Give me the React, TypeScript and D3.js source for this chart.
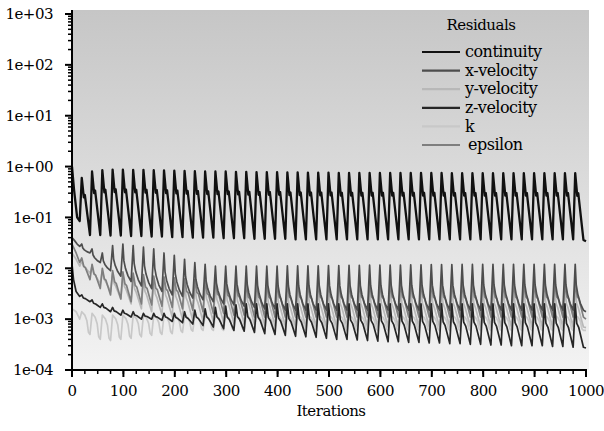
import * as d3 from 'd3';

// Fluent-style residual history, 0..1000 iterations, 49 periodic cycles
const seriesNames = ['continuity', 'x-velocity', 'y-velocity', 'z-velocity', 'k', 'epsilon'];
const seriesColors = ['#111111', '#4d4d4d', '#b8b8b8', '#262626', '#c8c8c8', '#7e7e7e'];
const drawOrder = [4, 2, 5, 1, 3, 0];

const yTickValues = [1e-4, 1e-3, 1e-2, 1e-1, 1e0, 1e1, 1e2, 1e3];
const yTickLabels = ['1e-04', '1e-03', '1e-02', '1e-01', '1e+00', '1e+01', '1e+02', '1e+03'];
const xTickValues = [0, 100, 200, 300, 400, 500, 600, 700, 800, 900, 1000];

// each cycle starts at a trough; 20 iterations per cycle
const cycleStarts = d3.range(15, 980, 20);

// residual values before the first cycle: [iteration, value]
const prefixes: [number, number][][] = [
  [[0, 1.0], [4, 0.35], [10, 0.1], [15, 0.085]],
  [[0, 0.04], [5, 0.035], [10, 0.03], [15, 0.027]],
  [[0, 0.02], [8, 0.015], [15, 0.011]],
  [[0, 0.012], [3, 0.006], [8, 0.0035], [15, 0.0028]],
  [[0, 0.0016], [8, 0.0014], [15, 0.001]],
  [[0, 0.03], [8, 0.02], [15, 0.013]],
];

// cycle shape: [iteration offset, position between trough (0) and peak (1), log scale]
const templates: [number, number][][] = [
  [[4, 1], [8, 0.66], [10, 0.7], [20, 0]],
  [[4, 1], [6, 0.55], [9, 0.35], [14, 0.15], [20, 0]],
  [[4, 1], [7, 0.6], [10, 0.5], [20, 0]],
  [[4, 1], [7, 0.55], [11, 0.45], [20, 0]],
  [[4, 1], [10, 0.85], [14, 0.6], [17, 0.1], [20, 0]],
  [[4, 1], [8, 0.6], [11, 0.55], [20, 0]],
];

const continuityPeaks = [
  0.6, 0.8, 0.85, 0.87, 0.87, 0.86, 0.86, 0.85, 0.84, 0.83,
  0.82, 0.81, 0.8, 0.8, 0.8, 0.79, 0.79, 0.78, 0.78, 0.78,
  0.77, 0.77, 0.76, 0.76, 0.76, 0.75, 0.75, 0.75, 0.75, 0.75,
  0.75, 0.75, 0.75, 0.75, 0.75, 0.75, 0.74, 0.74, 0.74, 0.74,
  0.74, 0.74, 0.74, 0.74, 0.74, 0.74, 0.74, 0.74, 0.74,
];
const continuityTroughs = [
  0.045, 0.045, 0.044, 0.044, 0.043, 0.043, 0.042, 0.042, 0.041, 0.041,
  0.04, 0.04, 0.04, 0.039, 0.039, 0.039, 0.038, 0.038, 0.038, 0.038,
  0.037, 0.037, 0.037, 0.037, 0.037, 0.037, 0.037, 0.037, 0.037, 0.037,
  0.037, 0.037, 0.037, 0.037, 0.037, 0.037, 0.037, 0.037, 0.037, 0.037,
  0.037, 0.037, 0.037, 0.037, 0.037, 0.037, 0.037, 0.037, 0.036,
];
const xVelPeaks = [
  0.03, 0.024, 0.02, 0.028, 0.03, 0.028, 0.026, 0.024, 0.02, 0.018,
  0.015, 0.013, 0.012, 0.011, 0.011, 0.011, 0.011, 0.011, 0.011, 0.011,
  0.0112, 0.0112, 0.0112, 0.0112, 0.0113, 0.0113, 0.0114, 0.0114, 0.0115, 0.0115,
  0.0116, 0.0116, 0.0117, 0.0117, 0.0118, 0.0118, 0.0118, 0.0119, 0.0119, 0.012,
  0.012, 0.012, 0.012, 0.012, 0.012, 0.012, 0.012, 0.012, 0.012,
];
const xVelTroughs = [
  0.02, 0.013, 0.009, 0.007, 0.0055, 0.0045, 0.004, 0.0035, 0.003, 0.0028,
  0.0026, 0.0024, 0.0022, 0.002, 0.0019, 0.0018, 0.0017, 0.0016, 0.0016, 0.0015,
  0.0015, 0.0015, 0.0015, 0.0015, 0.0015, 0.0015, 0.0015, 0.0015, 0.0015, 0.0015,
  0.0015, 0.0015, 0.0015, 0.0015, 0.0015, 0.0015, 0.0015, 0.0015, 0.0015, 0.0015,
  0.0015, 0.0015, 0.0015, 0.0015, 0.0015, 0.0015, 0.0015, 0.0015, 0.0015,
];
const yVelPeaks = [
  0.014, 0.011, 0.009, 0.008, 0.0075, 0.007, 0.0065, 0.006, 0.0058, 0.0055,
  0.0052, 0.005, 0.005, 0.0048, 0.0046, 0.0045, 0.0044, 0.0043, 0.0042, 0.0041,
  0.004, 0.004, 0.004, 0.004, 0.004, 0.004, 0.004, 0.004, 0.004, 0.004,
  0.004, 0.004, 0.004, 0.004, 0.004, 0.004, 0.004, 0.004, 0.004, 0.004,
  0.004, 0.004, 0.004, 0.004, 0.004, 0.004, 0.004, 0.004, 0.004,
];
const yVelTroughs = [
  0.008, 0.005, 0.0035, 0.0025, 0.002, 0.0016, 0.0014, 0.0012, 0.0011, 0.001,
  0.00095, 0.0009, 0.00088, 0.00085, 0.00082, 0.0008, 0.00078, 0.00076, 0.00074, 0.00072,
  0.0007, 0.0007, 0.0007, 0.0007, 0.0007, 0.0007, 0.0007, 0.0007, 0.0007, 0.0007,
  0.0007, 0.0007, 0.0007, 0.0007, 0.0007, 0.0007, 0.0007, 0.0007, 0.0007, 0.0007,
  0.0007, 0.0007, 0.0007, 0.0007, 0.0007, 0.0007, 0.0007, 0.0007, 0.0007,
];
const zVelPeaks = [
  0.003, 0.0024, 0.002, 0.0017, 0.0015, 0.0014, 0.0013, 0.0013, 0.0013, 0.0013,
  0.0014, 0.0015, 0.0016, 0.0017, 0.0018, 0.0019, 0.002, 0.002, 0.002, 0.002,
  0.002, 0.002, 0.002, 0.002, 0.002, 0.002, 0.002, 0.002, 0.002, 0.002,
  0.002, 0.002, 0.002, 0.002, 0.002, 0.002, 0.002, 0.002, 0.002, 0.002,
  0.002, 0.002, 0.002, 0.002, 0.002, 0.002, 0.002, 0.002, 0.002,
];
const zVelTroughs = [
  0.0022, 0.0017, 0.0014, 0.0012, 0.0011, 0.001, 0.001, 0.00095, 0.0009, 0.00085,
  0.0008, 0.00075, 0.0007, 0.00065, 0.0006, 0.00058, 0.00055, 0.00052, 0.0005, 0.00048,
  0.00046, 0.00045, 0.00044, 0.00042, 0.0004, 0.0004, 0.00039, 0.00038, 0.00037, 0.00036,
  0.00036, 0.00035, 0.00035, 0.00034, 0.00034, 0.00033, 0.00033, 0.00032, 0.00032, 0.00031,
  0.00031, 0.0003, 0.0003, 0.0003, 0.0003, 0.00029, 0.00029, 0.00028, 0.00028,
];
const kPeaks = [
  0.0014, 0.0013, 0.0012, 0.0012, 0.0012, 0.0012, 0.0012, 0.0012, 0.0012, 0.0012,
  0.0012, 0.0012, 0.0012, 0.0012, 0.0012, 0.0012, 0.0012, 0.0012, 0.0012, 0.0012,
  0.0012, 0.0012, 0.0012, 0.0012, 0.0012, 0.0012, 0.0012, 0.0012, 0.0012, 0.0012,
  0.0012, 0.0012, 0.0012, 0.0012, 0.0012, 0.0012, 0.0012, 0.0012, 0.0012, 0.0012,
  0.0012, 0.0012, 0.0012, 0.0012, 0.0012, 0.0012, 0.0012, 0.0012, 0.0012,
];
const kTroughs = [
  0.0005, 0.0004, 0.00038, 0.0004, 0.00042, 0.00045, 0.00048, 0.0005, 0.00052, 0.00055,
  0.00058, 0.0006, 0.0006, 0.0006, 0.0006, 0.0006, 0.0006, 0.0006, 0.0006, 0.0006,
  0.0006, 0.0006, 0.0006, 0.0006, 0.0006, 0.0006, 0.0006, 0.0006, 0.0006, 0.0006,
  0.0006, 0.0006, 0.0006, 0.0006, 0.0006, 0.0006, 0.0006, 0.0006, 0.0006, 0.0006,
  0.0006, 0.0006, 0.0006, 0.0006, 0.0006, 0.0006, 0.0006, 0.0006, 0.0006,
];
const epsPeaks = [
  0.016, 0.012, 0.01, 0.009, 0.0085, 0.008, 0.0075, 0.007, 0.0068, 0.0065,
  0.0062, 0.006, 0.0058, 0.0056, 0.0054, 0.0052, 0.005, 0.005, 0.005, 0.005,
  0.005, 0.005, 0.005, 0.005, 0.005, 0.005, 0.005, 0.005, 0.005, 0.005,
  0.005, 0.005, 0.005, 0.005, 0.005, 0.005, 0.005, 0.005, 0.005, 0.005,
  0.005, 0.005, 0.005, 0.005, 0.005, 0.005, 0.005, 0.005, 0.005,
];
const epsTroughs = [
  0.006, 0.004, 0.003, 0.0025, 0.0022, 0.002, 0.0019, 0.0018, 0.0017, 0.0016,
  0.0015, 0.0014, 0.0013, 0.0013, 0.0012, 0.0012, 0.0011, 0.0011, 0.0011, 0.0011,
  0.0011, 0.0011, 0.0011, 0.0011, 0.0011, 0.0011, 0.0011, 0.0011, 0.0011, 0.0011,
  0.0011, 0.0011, 0.0011, 0.0011, 0.0011, 0.0011, 0.0011, 0.0011, 0.0011, 0.0011,
  0.0011, 0.0011, 0.0011, 0.0011, 0.0011, 0.0011, 0.0011, 0.0011, 0.0011,
];

const peaksBySeries = [continuityPeaks, xVelPeaks, yVelPeaks, zVelPeaks, kPeaks, epsPeaks];
const troughsBySeries = [continuityTroughs, xVelTroughs, yVelTroughs, zVelTroughs, kTroughs, epsTroughs];
// value at iteration 1000
const finalValues = [0.034, 0.0014, 0.00068, 0.00027, 0.0006, 0.001];

function buildPoints(i: number): [number, number][] {
  const pts = prefixes[i].slice();
  const peaks = peaksBySeries[i];
  const troughs = troughsBySeries[i];
  cycleStarts.forEach((s, k) => {
    const lt = Math.log(troughs[k]);
    const lp = Math.log(peaks[k]);
    templates[i].forEach(([t, f]) => {
      pts.push([s + t, Math.exp(lt + f * (lp - lt))]);
    });
  });
  pts.push([1000, finalValues[i]]);
  return pts;
}

const W = 604;
const H = 431;
const plot = { left: 72, right: 586, top: 14, bottom: 370 };

export default function App() {
  const x = d3.scaleLinear().domain([0, 1000]).range([plot.left, plot.right]);
  const y = d3.scaleLog().domain([1e-4, 1e3]).range([plot.bottom, plot.top]);
  const line = d3
    .line<[number, number]>()
    .x((d) => x(d[0]))
    .y((d) => y(d[1]));

  const xMinor = d3.range(0, 1001, 25);
  const yMinor: number[] = [];
  yTickValues.slice(0, -1).forEach((v) => {
    for (let m = 2; m <= 9; m++) yMinor.push(v * m);
  });

  const textStyle = { fontFamily: "'DejaVu Serif', serif", letterSpacing: '-0.5px' };

  return (
    <svg width={W} height={H} style={{ position: 'absolute', left: 0, top: 0, background: '#fff' }}>
      <defs>
        <linearGradient id="bg" x1="0" y1="0" x2="0" y2="1">
          <stop offset="0" stopColor="#c6c6c6" />
          <stop offset="0.45" stopColor="#dadada" />
          <stop offset="1" stopColor="#f3f3f3" />
        </linearGradient>
        <clipPath id="clip">
          <rect x={plot.left} y={10} width={plot.right + 3 - plot.left} height={plot.bottom - 10} />
        </clipPath>
      </defs>
      <rect x={plot.left} y={10} width={plot.right + 3 - plot.left} height={plot.bottom - 10} fill="url(#bg)" />

      <g clipPath="url(#clip)" fill="none" strokeLinejoin="round">
        {drawOrder.map((i) => (
          <path
            key={seriesNames[i]}
            d={line(buildPoints(i)) || ''}
            stroke={seriesColors[i]}
            strokeWidth={i === 0 ? 2.3 : 1.7}
          />
        ))}
      </g>

      {/* axes */}
      <line x1={plot.left} x2={plot.left} y1={10} y2={plot.bottom + 1} stroke="#000" strokeWidth={2} />
      <line x1={plot.left - 1} x2={plot.right + 1} y1={plot.bottom} y2={plot.bottom} stroke="#000" strokeWidth={2} />
      {yMinor.map((v) => (
        <line key={'ym' + v} x1={plot.left - 4} x2={plot.left} y1={y(v)} y2={y(v)} stroke="#000" strokeWidth={1.5} />
      ))}
      {yTickValues.map((v, i) => (
        <g key={'y' + v}>
          <line x1={plot.left - 7} x2={plot.left} y1={y(v)} y2={y(v)} stroke="#000" strokeWidth={2} />
          <text x={53} y={y(v)} dy="0.35em" textAnchor="end" fontSize={15} style={textStyle}>
            {yTickLabels[i]}
          </text>
        </g>
      ))}
      {xMinor.map((v) => (
        <line key={'xm' + v} x1={x(v)} x2={x(v)} y1={plot.bottom} y2={plot.bottom + 4} stroke="#000" strokeWidth={1.5} />
      ))}
      {xTickValues.map((v) => (
        <g key={'x' + v}>
          <line x1={x(v)} x2={x(v)} y1={plot.bottom} y2={plot.bottom + 7} stroke="#000" strokeWidth={2} />
          <text x={x(v)} y={396} textAnchor="middle" fontSize={15} style={textStyle}>
            {v}
          </text>
        </g>
      ))}
      <text x={331} y={416} textAnchor="middle" fontSize={15} style={textStyle}>
        Iterations
      </text>

      {/* legend */}
      <text x={481} y={30} textAnchor="middle" fontSize={15} style={textStyle}>
        Residuals
      </text>
      {seriesNames.map((name, i) => (
        <g key={'lg' + name} transform={`translate(0, ${52 + i * 18.6})`}>
          <line x1={422} x2={460} y1={0} y2={0} stroke={seriesColors[i]} strokeWidth={2.2} />
          <text x={name === 'epsilon' ? 468 : 465} y={0} dy="0.32em" fontSize={16} style={textStyle}>
            {name}
          </text>
        </g>
      ))}
    </svg>
  );
}
